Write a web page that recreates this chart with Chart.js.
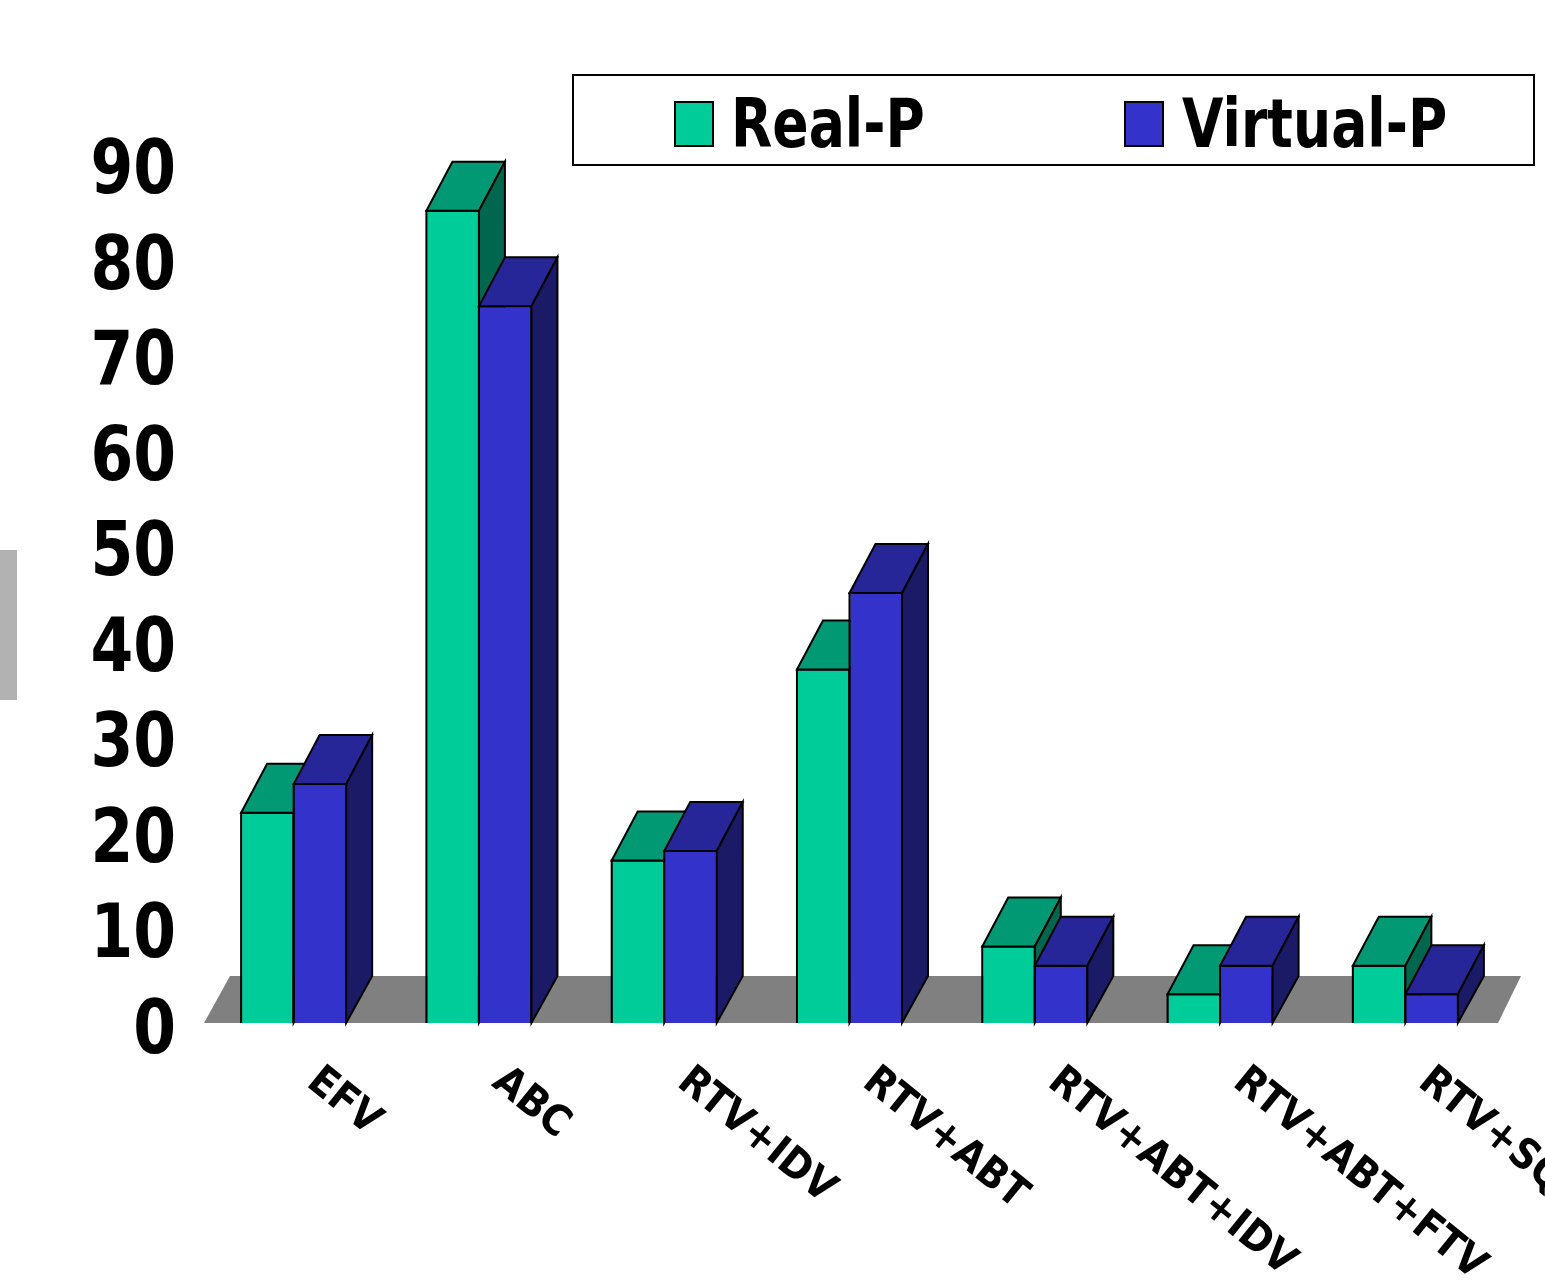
<!DOCTYPE html>
<html>
<head>
<meta charset="utf-8">
<title>Real-P / Virtual-P</title>
<script src="https://cdn.jsdelivr.net/npm/chart.js@4.4.1/dist/chart.umd.min.js"></script>
<style>
  html, body { margin: 0; padding: 0; background: #ffffff; }
  #wrap { position: relative; width: 1545px; height: 1283px; overflow: hidden; }
  #wrap canvas { position: absolute; left: 0; top: 0; }
  #tab { position: absolute; left: 0; top: 550px; width: 17px; height: 150px; background: #b2b2b2; }
</style>
</head>
<body>
<div id="wrap">
  <canvas id="chart" width="1545" height="1283"></canvas>
  <div id="tab"></div>
</div>
<script>
// Regimens on the category axis
const categories = ['EFV', 'ABC', 'RTV+IDV', 'RTV+ABT', 'RTV+ABT+IDV', 'RTV+ABT+FTV', 'RTV+SQV'];
// Series values
const realP = [22, 85, 17, 37, 8, 3, 6];
const virtualP = [25, 75, 18, 45, 6, 6, 3];
// Value axis tick labels
const yTicks = [0, 10, 20, 30, 40, 50, 60, 70, 80, 90];
const seriesNames = ['Real-P', 'Virtual-P'];

const FONT = '"DejaVu Sans", Verdana, sans-serif';
// Depth offsets of the extruded bars and the floor
const TOP_DX = 26, TOP_DY = -49;
const BASE_DX = 26, BASE_DY = -47;

function face(ctx, pts, fill) {
  ctx.beginPath();
  ctx.moveTo(pts[0][0], pts[0][1]);
  for (let i = 1; i < pts.length; i++) ctx.lineTo(pts[i][0], pts[i][1]);
  ctx.closePath();
  if (fill) { ctx.fillStyle = fill; ctx.fill(); }
  ctx.lineWidth = 2;
  ctx.strokeStyle = '#000000';
  ctx.lineJoin = 'miter';
  ctx.stroke();
}

const depthPlugin = {
  id: 'depth3d',
  beforeDatasetsDraw(chart) {
    // grey floor under the bars
    const { ctx, scales: { x, y } } = chart;
    const y0 = y.getPixelForValue(0);
    ctx.save();
    ctx.fillStyle = '#808080';
    ctx.beginPath();
    ctx.moveTo(x.left + 3, y0);
    ctx.lineTo(x.left + 3 + BASE_DX, y0 + BASE_DY);
    ctx.lineTo(x.right + 23, y0 + BASE_DY);
    ctx.lineTo(x.right, y0);
    ctx.closePath();
    ctx.fill();
    ctx.restore();
  },
  // the bars are painted below, series by series, so the default pass is skipped
  beforeDatasetDraw() {
    return false;
  },
  afterDatasetsDraw(chart) {
    const ctx = chart.ctx;
    ctx.save();
    chart.data.datasets.forEach((ds, di) => {
      const meta = chart.getDatasetMeta(di);
      meta.data.forEach(bar => {
        bar.draw(ctx, chart.chartArea);
        const p = bar.getProps(['x', 'y', 'base', 'width'], true);
        const l = p.x - p.width / 2, r = p.x + p.width / 2;
        const t = p.y, b = p.base;
        // front outline (left, top, right)
        ctx.beginPath();
        ctx.moveTo(l, b); ctx.lineTo(l, t); ctx.lineTo(r, t); ctx.lineTo(r, b);
        ctx.lineWidth = 2; ctx.strokeStyle = '#000'; ctx.stroke();
        face(ctx, [[l, t], [l + TOP_DX, t + TOP_DY], [r + TOP_DX, t + TOP_DY], [r, t]], ds.topColor);
        face(ctx, [[r, t], [r + TOP_DX, t + TOP_DY], [r + BASE_DX, b + BASE_DY], [r, b]], ds.sideColor);
      });
    });
    ctx.restore();
  },
  afterDraw(chart) {
    const { ctx, scales: { x, y } } = chart;
    ctx.save();
    ctx.fillStyle = '#000000';

    // value axis labels
    ctx.font = 'bold 75px ' + FONT;
    ctx.textAlign = 'right';
    ctx.textBaseline = 'alphabetic';
    yTicks.forEach(v => {
      const py = y.getPixelForValue(v);
      ctx.save();
      ctx.translate(x.left - 25, py + 30);
      ctx.scale(0.82, 1);
      ctx.fillText(String(v), 0, 0);
      ctx.restore();
    });

    // slanted category labels
    const y0 = y.getPixelForValue(0);
    ctx.font = 'bold 42px ' + FONT;
    ctx.textAlign = 'left';
    categories.forEach((c, i) => {
      const px = x.getPixelForValue(i);
      ctx.save();
      ctx.translate(px + 11.5, y0 + 62);
      ctx.rotate(39 * Math.PI / 180);
      ctx.scale(0.9, 1);
      ctx.fillText(c, 0, 0);
      ctx.restore();
    });

    // legend box
    ctx.fillStyle = '#ffffff';
    ctx.fillRect(573, 75, 961, 90);
    ctx.lineWidth = 2;
    ctx.strokeStyle = '#000000';
    ctx.strokeRect(573, 75, 961, 90);
    const items = [
      { box: 675, text: 731 },
      { box: 1125, text: 1182 }
    ];
    ctx.font = 'bold 67px ' + FONT;
    chart.data.datasets.forEach((ds, i) => {
      const it = items[i];
      ctx.fillStyle = ds.backgroundColor;
      ctx.fillRect(it.box, 102, 38, 44);
      ctx.strokeRect(it.box, 102, 38, 44);
      ctx.fillStyle = '#000000';
      ctx.save();
      ctx.translate(it.text, 147);
      ctx.scale(0.8, 1);
      ctx.fillText(ds.label, 0, 0);
      ctx.restore();
    });
    ctx.restore();
  }
};

new Chart(document.getElementById('chart'), {
  type: 'bar',
  data: {
    labels: categories,
    datasets: [
      {
        label: seriesNames[0],
        data: realP,
        backgroundColor: '#00cc99',
        topColor: '#009973',
        sideColor: '#00664d',
        borderColor: '#000000',
        borderWidth: 1,
        categoryPercentage: 0.567,
        barPercentage: 1.0
      },
      {
        label: seriesNames[1],
        data: virtualP,
        backgroundColor: '#3333cc',
        topColor: '#262699',
        sideColor: '#1a1a66',
        borderColor: '#000000',
        borderWidth: 1,
        categoryPercentage: 0.567,
        barPercentage: 1.0
      }
    ]
  },
  options: {
    responsive: false,
    devicePixelRatio: 1,
    animation: false,
    events: [],
    layout: { padding: { left: 201, right: 47, top: 163, bottom: 260 } },
    scales: {
      x: { display: false, grid: { display: false } },
      y: { display: false, min: 0, max: 90, grid: { display: false } }
    },
    plugins: {
      legend: { display: false },
      tooltip: { enabled: false }
    }
  },
  plugins: [depthPlugin]
});
</script>
</body>
</html>
